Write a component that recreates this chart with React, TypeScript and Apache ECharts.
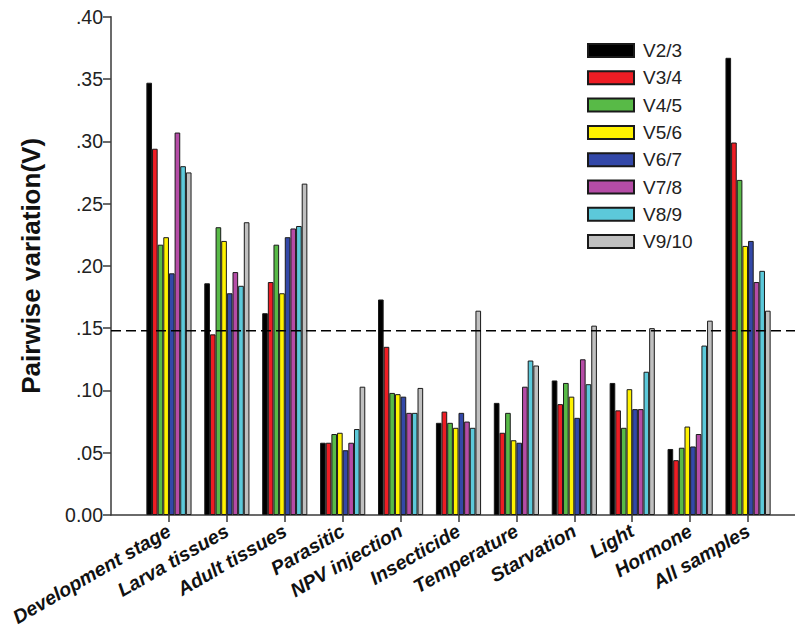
import { useEffect, useRef } from "react";
import * as echarts from "echarts";

const categories = [
  "Development stage",
  "Larva tissues",
  "Adult tissues",
  "Parasitic",
  "NPV injection",
  "Insecticide",
  "Temperature",
  "Starvation",
  "Light",
  "Hormone",
  "All samples",
];

const seriesNames = ["V2/3", "V3/4", "V4/5", "V5/6", "V6/7", "V7/8", "V8/9", "V9/10"];

const v23 = [0.347, 0.186, 0.162, 0.058, 0.173, 0.074, 0.09, 0.108, 0.106, 0.053, 0.367];
const v34 = [0.294, 0.145, 0.187, 0.058, 0.135, 0.083, 0.066, 0.089, 0.084, 0.044, 0.299];
const v45 = [0.217, 0.231, 0.217, 0.065, 0.098, 0.074, 0.082, 0.106, 0.07, 0.054, 0.269];
const v56 = [0.223, 0.22, 0.178, 0.066, 0.097, 0.07, 0.06, 0.095, 0.101, 0.071, 0.216];
const v67 = [0.194, 0.178, 0.223, 0.052, 0.095, 0.082, 0.058, 0.078, 0.085, 0.055, 0.22];
const v78 = [0.307, 0.195, 0.23, 0.058, 0.082, 0.075, 0.103, 0.125, 0.085, 0.065, 0.187];
const v89 = [0.28, 0.184, 0.232, 0.069, 0.082, 0.07, 0.124, 0.105, 0.115, 0.136, 0.196];
const v910 = [0.275, 0.235, 0.266, 0.103, 0.102, 0.164, 0.12, 0.152, 0.15, 0.156, 0.164];

const seriesValues = [v23, v34, v45, v56, v67, v78, v89, v910];

const colors = ["#000000", "#EE1D24", "#58BA47", "#FFF200", "#3348A8", "#B54CA6", "#5CC9DA", "#C0C0C0"];

const THRESHOLD = 0.148;
const Y_MIN = 0;
const Y_MAX = 0.4;
const Y_STEP = 0.05;

export default function App() {
  const ref = useRef<HTMLDivElement>(null);

  useEffect(() => {
    const chart = echarts.init(ref.current!, null, { renderer: "svg" });
    const font = "'Liberation Sans', Arial, sans-serif";
    const axisColor = "#3a3a3a";

    const bars = seriesNames.map((name, i) => ({
      name,
      type: "bar",
      xAxisIndex: 0,
      yAxisIndex: 0,
      data: seriesValues[i],
      barGap: "0%",
      barCategoryGap: "22%",
      itemStyle: { color: colors[i], borderColor: "#1a1a1a", borderWidth: 1 },
      z: 2,
    }));

    chart.setOption({
      animation: false,
      textStyle: { fontFamily: font },
      grid: [
        { left: 140, right: 18, top: 16.7, bottom: 117 },
        { left: 111, right: 0, top: 16.7, bottom: 117 },
      ],
      xAxis: [
        {
          type: "category",
          gridIndex: 0,
          data: categories,
          axisLine: { show: false },
          axisTick: {
            show: true,
            alignWithLabel: true,
            length: 7,
            lineStyle: { color: axisColor, width: 1.5 },
          },
          axisLabel: {
            interval: 0,
            rotate: 30,
            margin: 14,
            fontSize: 19.5,
            fontWeight: "bold",
            fontStyle: "italic",
            color: "#111",
            fontFamily: font,
          },
          splitLine: { show: false },
        },
        {
          type: "value",
          gridIndex: 1,
          min: 0,
          max: 1,
          axisLine: { show: true, onZero: false, lineStyle: { color: axisColor, width: 1.5 } },
          axisTick: { show: false },
          axisLabel: { show: false },
          splitLine: { show: false },
        },
      ],
      yAxis: [
        { type: "value", gridIndex: 0, min: Y_MIN, max: Y_MAX, show: false, splitLine: { show: false } },
        {
          type: "value",
          gridIndex: 1,
          min: Y_MIN,
          max: Y_MAX,
          interval: Y_STEP,
          axisLine: { show: true, lineStyle: { color: axisColor, width: 1.5 } },
          axisTick: { show: true, length: 8, lineStyle: { color: axisColor, width: 1.5 } },
          axisLabel: {
            fontSize: 19.5,
            margin: 8,
            color: "#222",
            fontFamily: font,
            formatter: (v: number) => (v === 0 ? "0.00" : v.toFixed(2).replace(/^0/, "")),
          },
          splitLine: { show: false },
          name: "Pairwise variation(V)",
          nameLocation: "middle",
          nameGap: 67,
          nameTextStyle: { fontSize: 26, fontWeight: "bold", color: "#111", fontFamily: font },
        },
      ],
      legend: {
        data: seriesNames,
        orient: "vertical",
        left: 587,
        top: 41,
        padding: 0,
        itemWidth: 46,
        itemHeight: 13,
        itemGap: 8.3,
        icon: "rect",
        textStyle: { fontSize: 19, lineHeight: 18, color: "#222", fontFamily: font, padding: [0, 0, 0, 4] },
      },
      series: [
        ...bars,
        {
          type: "line",
          xAxisIndex: 1,
          yAxisIndex: 1,
          data: [
            [0, THRESHOLD],
            [1, THRESHOLD],
          ],
          symbol: "none",
          silent: true,
          lineStyle: { color: "#000", width: 1.5, type: [10, 5] },
          z: 5,
        },
      ],
    });

    return () => chart.dispose();
  }, []);

  return (
    <div
      ref={ref}
      style={{ position: "fixed", left: 0, top: 0, width: 795, height: 632, background: "#fff" }}
    />
  );
}
